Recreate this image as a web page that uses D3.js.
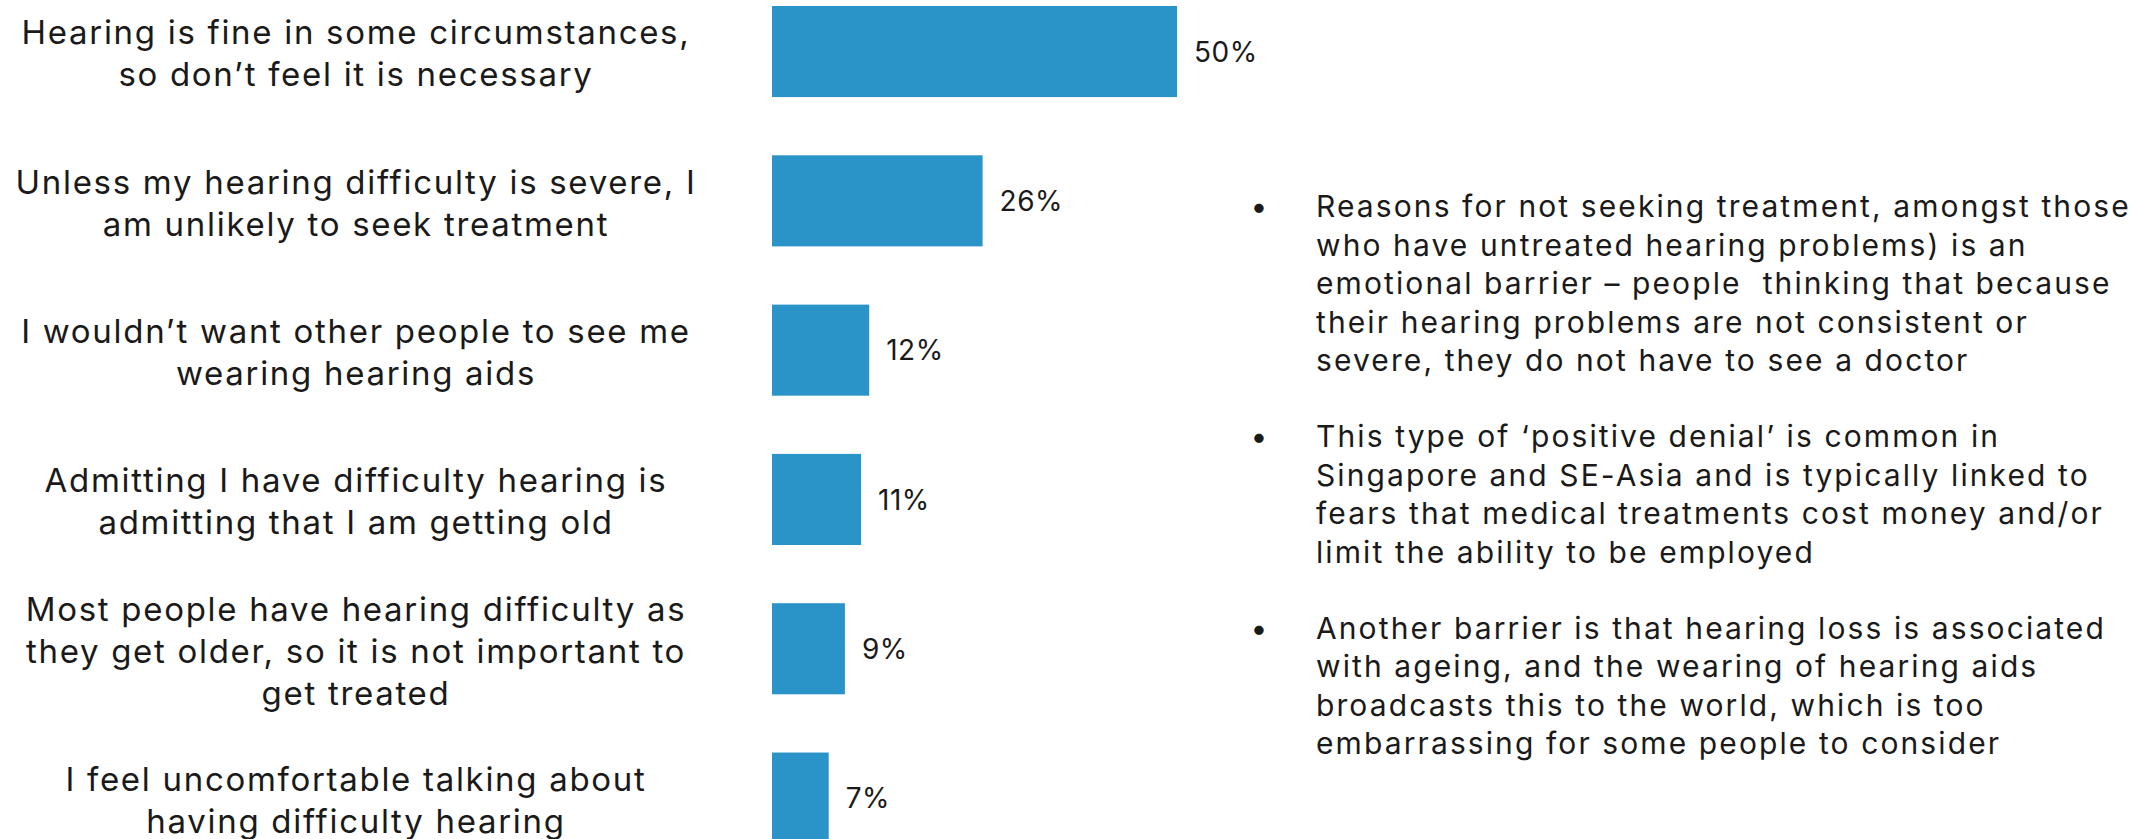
<!DOCTYPE html>
<html>
<head>
<meta charset="utf-8">
<script src="https://cdn.jsdelivr.net/npm/d3@7/dist/d3.min.js"></script>
<style>
  html, body { margin: 0; padding: 0; background: #ffffff; }
  svg { display: block; }
  text { font-family: Inter, "Open Sans", sans-serif; fill: #1a1a1a; }
</style>
</head>
<body>
<svg id="chart" width="2152" height="839"></svg>
<script>
// Reasons for not seeking treatment (share of respondents, %)
const categories = [
  ["Hearing is fine in some circumstances,", "so don\u2019t feel it is necessary"],
  ["Unless my hearing difficulty is severe, I", "am unlikely to seek treatment"],
  ["I wouldn\u2019t want other people to see me", "wearing hearing aids"],
  ["Admitting I have difficulty hearing is", "admitting that I am getting old"],
  ["Most people have hearing difficulty as", "they get older, so it is not important to", "get treated"],
  ["I feel uncomfortable talking about", "having difficulty hearing"]
];
const values = [50, 26, 12, 11, 9, 7];
const valueLabels = ["50%", "26%", "12%", "11%", "9%", "7%"];

const notes = [
  ["Reasons for not seeking treatment, amongst those",
   "who have untreated hearing problems) is an",
   "emotional barrier \u2013 people  thinking that because",
   "their hearing problems are not consistent or",
   "severe, they do not have to see a doctor"],
  ["This type of \u2018positive denial\u2019 is common in",
   "Singapore and SE-Asia and is typically linked to",
   "fears that medical treatments cost money and/or",
   "limit the ability to be employed"],
  ["Another barrier is that hearing loss is associated",
   "with ageing, and the wearing of hearing aids",
   "broadcasts this to the world, which is too",
   "embarrassing for some people to consider"]
];

const svg = d3.select("#chart");
const ids = categories.map((d, i) => i);

const y = d3.scaleBand().domain(ids).range([6, 843.6]).paddingInner(0.39).paddingOuter(0);
const x = d3.scaleLinear().domain([0, 50]).range([772, 1177]);

// bars
svg.append("g").selectAll("rect").data(values).join("rect")
  .attr("x", x(0))
  .attr("y", (d, i) => y(i))
  .attr("width", d => x(d) - x(0))
  .attr("height", y.bandwidth())
  .attr("fill", "#2a93c7");

// value labels
svg.append("g").selectAll("text").data(values).join("text")
  .attr("x", d => x(d) + 17)
  .attr("y", (d, i) => y(i) + y.bandwidth() / 2)
  .attr("dy", "0.36em")
  .attr("font-size", 28)
  .attr("letter-spacing", 0.5)
  .text((d, i) => valueLabels[i]);

// category labels, centred beside each bar
const lineH = 42;
const labelG = svg.append("g");
categories.forEach((lines, i) => {
  const cy = y(i) + y.bandwidth() / 2 + 2;
  const first = cy - (lines.length - 1) * lineH / 2;
  const t = labelG.append("text")
    .attr("text-anchor", "middle")
    .attr("font-size", 33)
    .attr("letter-spacing", 1.7);
  lines.forEach((ln, j) => {
    t.append("tspan").attr("x", 356).attr("y", first + j * lineH).attr("dy", "0.36em").text(ln);
  });
});

// commentary bullets
const noteG = svg.append("g");
let base = 217;
const noteLine = 38.5, paraGap = 76;
notes.forEach((para, p) => {
  noteG.append("text").attr("x", 1259).attr("y", base).attr("text-anchor", "middle")
    .attr("font-size", 30).text("\u2022");
  const t = noteG.append("text").attr("font-size", 30).attr("letter-spacing", 2.1)
    .style("white-space", "pre");
  para.forEach((ln, j) => {
    t.append("tspan").attr("x", 1316).attr("y", base + j * noteLine).text(ln);
  });
  base += (para.length - 1) * noteLine + paraGap;
});
</script>
</body>
</html>
